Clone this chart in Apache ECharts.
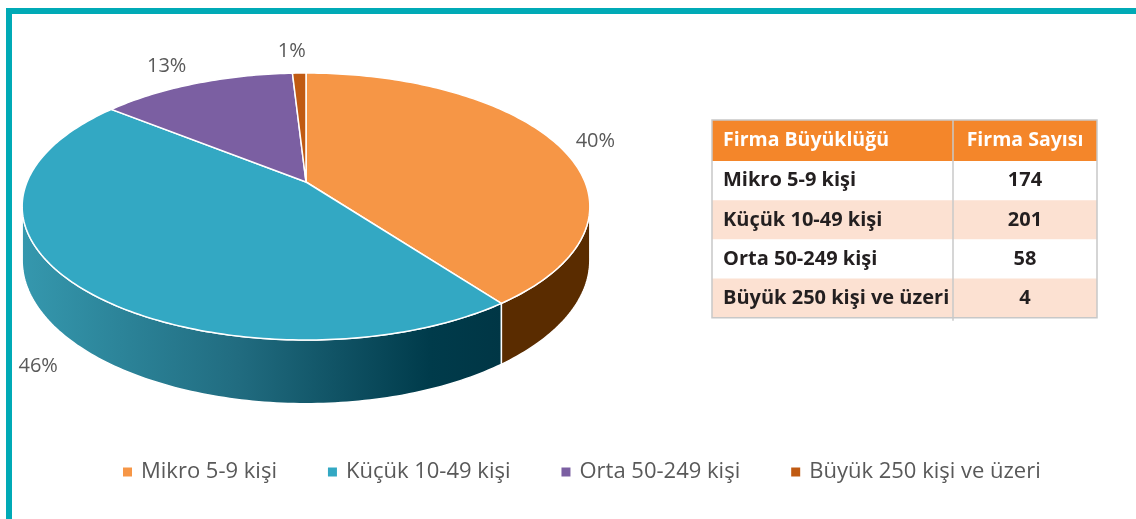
<!DOCTYPE html>
<html>
<head>
<meta charset="utf-8">
<script src="https://cdn.jsdelivr.net/npm/echarts@6/dist/echarts.min.js"></script>
<style>
  html, body { margin: 0; padding: 0; background: #fff; }
  #main { width: 1136px; height: 519px; }
</style>
</head>
<body>
<div id="main"></div>
<script>
// data
var categories = ['Mikro 5-9 kişi', 'Küçük 10-49 kişi', 'Orta 50-249 kişi', 'Büyük 250 kişi ve üzeri'];
var firmCounts = [174, 201, 58, 4];
var tableHeaders = ['Firma Büyüklüğü', 'Firma Sayısı'];

// styles
var topColors = ['#F69646', '#33A8C3', '#7B5FA2', '#C05A12'];
var sideColors = ['#5A2C00', null, '#3E2A5A', '#5E2A05'];
var FONT = 'Open Sans';

// perspective of the disk (pixels)
var CX = 306, B = 182, A = -95.6, C = 0.1835, K = 279, T = 52;
var SIL1 = Math.acos(-C) * 180 / Math.PI;   // visible side from ...
var SIL2 = 360 - SIL1;                       // ... to

var total = firmCounts.reduce(function (s, v) { return s + v; }, 0);
var starts = [];
(function () {
  var acc = 0;
  firmCounts.forEach(function (v) { starts.push(acc / total * 360); acc += v; });
})();

function proj(theta, r, depth) {
  var t = theta * Math.PI / 180;
  var u = r * Math.sin(t), v = r * Math.cos(t);
  var w = 1 + C * v;
  return [CX + K * u / w, (A * v + B) / w + depth * T / w];
}

function arc(a, b, r, depth) {
  var pts = [];
  var n = Math.max(2, Math.ceil((b - a) / 1));
  for (var k = 0; k <= n; k++) pts.push(proj(a + (b - a) * k / n, r, depth));
  return pts;
}

var tealSide = new echarts.graphic.LinearGradient(0, 0, 1, 0, [
  { offset: 0, color: '#3598AE' },
  { offset: 0.45, color: '#216C80' },
  { offset: 0.85, color: '#003B4B' },
  { offset: 1, color: '#003645' }
]);

function renderSlice(params, api) {
  var i = params.seriesIndex;
  var a = starts[i];
  var b = a + api.value(0) / total * 360;
  var children = [];

  var s = Math.max(a, SIL1), e = Math.min(b, SIL2);
  if (e > s) {
    var sidePts = arc(s, e, 1, 0).concat(arc(s, e, 1, 1).reverse());
    children.push({
      type: 'polygon', z2: 1,
      shape: { points: sidePts },
      style: { fill: i === 1 ? tealSide : sideColors[i], stroke: '#fff', lineWidth: 1.5 }
    });
  }

  var topPts = [proj(0, 0, 0)].concat(arc(a, b, 1, 0));
  children.push({
    type: 'polygon', z2: 10,
    shape: { points: topPts },
    style: { fill: topColors[i], stroke: '#fff', lineWidth: 1.5 }
  });

  // percentage label outside the rim
  var mid = (a + b) / 2;
  var mu = Math.sin(mid * Math.PI / 180), mv = Math.cos(mid * Math.PI / 180);
  var lp = proj(mid, 1, mv < 0 ? 1 : 0);
  lp[0] += (mu < 0 ? -44 : 40) * Math.sqrt(Math.abs(mu));
  lp[1] += mv >= 0 ? -22 * mv * mv : 32 * -mv;
  children.push({
    type: 'text', z2: 20,
    x: lp[0], y: lp[1],
    style: {
      text: Math.round(api.value(0) / total * 100) + '%',
      fill: '#595959', fontSize: 20, fontFamily: FONT,
      align: 'center', verticalAlign: 'middle'
    }
  });

  return { type: 'group', children: children };
}

var series = categories.map(function (name, i) {
  return {
    type: 'custom',
    name: name,
    coordinateSystem: 'none',
    itemStyle: { color: topColors[i] },
    renderItem: renderSlice,
    data: [[firmCounts[i]]],
    silent: true
  };
});

// table
var tableX = 712, tableW = 385, colX = 953, headH = 41, rowH = 39.2, tableY = 120;
var graphics = [];
graphics.push({
  type: 'rect', z: 0,
  shape: { x: 9, y: 11, width: 1300, height: 700 },
  style: { fill: 'none', stroke: '#00AAB6', lineWidth: 6 }
});
graphics.push({
  type: 'rect',
  shape: { x: tableX, y: tableY, width: tableW, height: headH },
  style: { fill: '#F4862A' }
});
graphics.push({
  type: 'text', x: tableX + 11, y: tableY + headH / 2,
  style: { text: tableHeaders[0], fill: '#fff', fontSize: 19.5, fontWeight: 'bold', fontFamily: FONT, verticalAlign: 'middle' }
});
graphics.push({
  type: 'text', x: (colX + tableX + tableW) / 2, y: tableY + headH / 2,
  style: { text: tableHeaders[1], fill: '#fff', fontSize: 19.5, fontWeight: 'bold', fontFamily: FONT, align: 'center', verticalAlign: 'middle' }
});
categories.forEach(function (name, i) {
  var y = tableY + headH + i * rowH;
  graphics.push({
    type: 'rect',
    shape: { x: tableX, y: y, width: tableW, height: rowH },
    style: { fill: i % 2 ? '#FCE1D2' : '#fff' }
  });
  graphics.push({
    type: 'text', x: tableX + 11, y: y + rowH / 2,
    style: { text: name, fill: '#231F20', fontSize: 20, fontWeight: 'bold', fontFamily: FONT, verticalAlign: 'middle' }
  });
  graphics.push({
    type: 'text', x: (colX + tableX + tableW) / 2, y: y + rowH / 2,
    style: { text: String(firmCounts[i]), fill: '#231F20', fontSize: 20, fontWeight: 'bold', fontFamily: FONT, align: 'center', verticalAlign: 'middle' }
  });
});
var tableH = headH + categories.length * rowH;
graphics.push({
  type: 'rect',
  shape: { x: tableX, y: tableY, width: tableW, height: tableH },
  style: { fill: 'none', stroke: '#C8C8C8', lineWidth: 1.5 }
});
graphics.push({
  type: 'line',
  shape: { x1: colX, y1: tableY, x2: colX, y2: tableY + tableH + 3 },
  style: { stroke: '#C8C8C8', lineWidth: 1.5 }
});

var myChart = echarts.init(document.getElementById('main'));
myChart.setOption({
  backgroundColor: '#fff',
  animation: false,
  legend: {
    data: categories,
    left: 118,
    top: 456,
    icon: 'rect',
    itemWidth: 9,
    itemHeight: 9,
    itemGap: 51,
    textStyle: { color: '#595959', fontSize: 22, fontFamily: FONT, padding: [0, 0, 0, 4] }
  },
  graphic: graphics,
  series: series
});
</script>
</body>
</html>
